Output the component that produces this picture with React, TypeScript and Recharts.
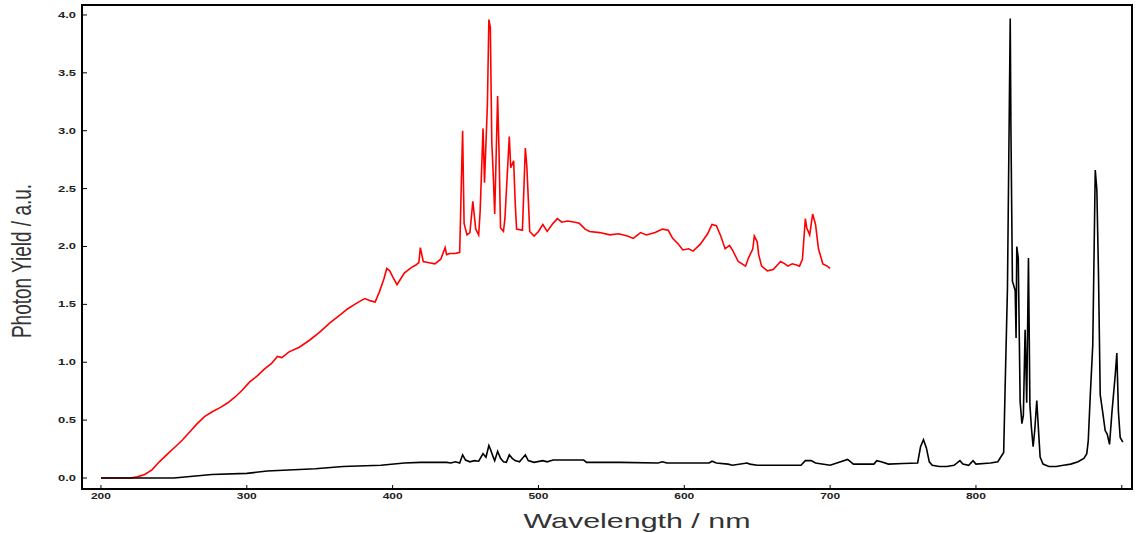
import React from "react";
import { LineChart, Line, XAxis, YAxis, ReferenceArea } from "recharts";

// visible-range spectrum (red)
const visWavelength = [
  200, 210, 220, 225, 230, 235, 240, 245, 251, 256, 261, 266, 271, 276, 282, 287, 292, 297, 302, 307,
  312, 317, 321, 324, 329, 336, 343, 350, 357, 364, 369, 374, 378, 381, 385, 388, 391, 394, 396, 398,
  400, 403, 406, 408, 411, 413, 416, 418, 419, 421, 425, 429, 433, 436, 437, 439, 443, 446, 447, 448,
  449, 451, 453, 455, 457, 459, 460, 462, 463, 465, 466, 467, 468, 469, 470, 472, 473, 474, 476, 477,
  480, 481, 483, 484, 485, 489, 491, 492, 493, 494, 497, 500, 503, 506, 510, 513, 516, 520, 525, 528,
  532, 535, 542, 549, 555, 561, 565, 570, 574, 580, 585, 589, 592, 596, 599, 603, 606, 611, 616, 619,
  622, 625, 628, 631, 633, 637, 642, 644, 647, 648, 650, 651, 653, 657, 661, 666, 669, 671, 674, 677,
  679, 681, 683, 684, 686, 688, 690, 692, 695, 698, 700,
];
const visYield = [
  0.0, 0.0, 0.0, 0.01, 0.03, 0.07, 0.14, 0.2, 0.27, 0.33, 0.4, 0.47, 0.53, 0.57, 0.61, 0.65, 0.7, 0.76, 0.83, 0.88,
  0.94, 0.99, 1.05, 1.04, 1.09, 1.13, 1.19, 1.26, 1.34, 1.41, 1.46, 1.5, 1.53, 1.55, 1.53, 1.52, 1.61, 1.72, 1.81, 1.79,
  1.74, 1.67, 1.73, 1.77, 1.8, 1.82, 1.84, 1.86, 1.99, 1.87, 1.86, 1.85, 1.89, 1.99, 1.93, 1.94, 1.94, 1.95, 2.49, 3.0,
  2.2, 2.1, 2.12, 2.39, 2.15, 2.1, 2.3, 3.02, 2.55, 3.23, 3.96, 3.89, 2.9, 2.62, 2.28, 3.3, 2.8, 2.16, 2.13, 2.24,
  2.95, 2.68, 2.74, 2.39, 2.15, 2.14, 2.85, 2.7, 2.42, 2.13, 2.09, 2.13, 2.19, 2.13, 2.2, 2.24, 2.21, 2.22, 2.21, 2.2,
  2.15, 2.13, 2.12, 2.1, 2.11, 2.09, 2.07, 2.12, 2.1, 2.12, 2.15, 2.14, 2.07, 2.02, 1.97, 1.98, 1.96, 2.02, 2.11, 2.19,
  2.18, 2.09, 1.98, 2.01, 1.97, 1.87, 1.83, 1.9, 1.98, 2.09, 2.04, 1.93, 1.83, 1.79, 1.8, 1.87, 1.85, 1.83, 1.85, 1.84,
  1.83, 1.89, 2.24, 2.16, 2.1, 2.28, 2.19, 1.98, 1.85, 1.83, 1.81,
];

// full-range spectrum (black)
const nirWavelength = [
  200, 215, 231, 250, 276, 300, 314, 347, 366, 392, 408, 419, 437, 440, 443, 446, 448, 450, 453, 456,
  459, 462, 464, 466, 467, 469, 470, 472, 474, 476, 478, 480, 482, 484, 487, 491, 493, 497, 503, 506,
  510, 531, 533, 556, 582, 585, 588, 617, 619, 622, 630, 633, 643, 645, 650, 680, 683, 687, 690, 700,
  712, 716, 730, 732, 735, 740, 750, 760, 762, 764, 766, 768, 770, 775, 780, 785, 789, 791, 795, 798,
  800, 810, 815, 819, 820, 821.6, 823.5, 824, 825, 826.9, 827.5, 828, 829, 830.3, 831.5, 832.5, 833.7, 834.8, 836, 837,
  838, 839.2, 840.3, 841.7, 843, 844, 846, 850, 855, 860, 865, 870, 874, 876, 877, 878.3, 880.1, 881.8, 882.9, 884,
  885.2, 887, 888.6, 890, 891.6, 893.2, 895.5, 896.6, 897.7, 898.9, 900.7,
];
const nirYield = [
  0.0, 0.0, 0.0, 0.0, 0.03, 0.04, 0.06, 0.08, 0.1, 0.11, 0.13, 0.135, 0.135, 0.13, 0.14, 0.13, 0.2, 0.155, 0.14, 0.15,
  0.145, 0.21, 0.18, 0.28, 0.25, 0.18, 0.15, 0.23, 0.17, 0.14, 0.135, 0.2, 0.17, 0.15, 0.14, 0.2, 0.15, 0.135, 0.15, 0.14,
  0.155, 0.155, 0.135, 0.135, 0.13, 0.14, 0.13, 0.13, 0.145, 0.13, 0.12, 0.11, 0.13, 0.12, 0.11, 0.11, 0.15, 0.15, 0.13, 0.11,
  0.16, 0.12, 0.12, 0.15, 0.14, 0.12, 0.125, 0.13, 0.27, 0.33, 0.26, 0.14, 0.11, 0.1, 0.1, 0.11, 0.15, 0.12, 0.11, 0.15,
  0.12, 0.13, 0.14, 0.22, 0.78, 1.64, 3.97, 2.99, 1.7, 1.62, 1.21, 2.0, 1.9, 0.66, 0.47, 0.54, 1.28, 0.65, 1.9, 0.63,
  0.44, 0.27, 0.41, 0.67, 0.39, 0.18, 0.12, 0.1, 0.1, 0.11, 0.12, 0.14, 0.17, 0.21, 0.32, 0.69, 1.15, 2.66, 2.49, 1.78,
  0.72, 0.56, 0.41, 0.38, 0.29, 0.56, 0.89, 1.08, 0.57, 0.35, 0.31,
];

const xTicks = [200, 300, 400, 500, 600, 700, 800, 900];
const yTicks = [0, 0.5, 1, 1.5, 2, 2.5, 3, 3.5, 4];
const xDomain = [187, 907];
const yDomain = [-0.095, 4.086];

const visData = visWavelength.map((x, i) => ({ x, y: visYield[i] }));
const nirData = nirWavelength.map((x, i) => ({ x, y: nirYield[i] }));

const FONT = "'Liberation Sans', Arial, sans-serif";

const XTick = (props: any) => {
  const { x, y, payload } = props;
  if (payload.value === 900) return <g />;
  return (
    <text x={x} y={y} dy="0.71em" textAnchor="middle" fontSize={8.5} fontWeight="bold" fill="#222"
      fontFamily={FONT} textLength={20} lengthAdjust="spacingAndGlyphs">
      {payload.value}
    </text>
  );
};

const YTick = (props: any) => {
  const { x, y, payload } = props;
  return (
    <text x={x} y={y} dy="0.35em" textAnchor="end" fontSize={8.5} fontWeight="bold" fill="#222"
      fontFamily={FONT} textLength={18} lengthAdjust="spacingAndGlyphs">
      {payload.value.toFixed(1)}
    </text>
  );
};

const XTitle = (props: any) => {
  const { viewBox } = props;
  return (
    <text x={viewBox.x + viewBox.width / 2 + 30} y={viewBox.y + 39} textAnchor="middle" fontSize={21}
      fill="#333" fontFamily={FONT} textLength={227} lengthAdjust="spacingAndGlyphs">
      Wavelength / nm
    </text>
  );
};

const YTitle = (props: any) => {
  const { viewBox } = props;
  const cx = viewBox.x + 31;
  const cy = viewBox.y + viewBox.height / 2 + 14;
  return (
    <text transform={`translate(${cx},${cy}) scale(1.45,1) rotate(-90)`} x={0} y={0} textAnchor="middle"
      fontSize={19} fill="#333" fontFamily={FONT}>
      Photon Yield / a.u.
    </text>
  );
};

export default function App() {
  return (
    <div style={{ position: "absolute", left: 0, top: 0, width: 1144, height: 533, background: "#fff" }}>
      <LineChart width={1144} height={533} margin={{ top: 5, right: 12, bottom: 0, left: 0 }}>
        {/* box round the whole plot range: gives the top and right edges */}
        <ReferenceArea x1={xDomain[0]} x2={xDomain[1]} y1={yDomain[0]} y2={yDomain[1]}
          ifOverflow="visible" fill="none" fillOpacity={0} stroke="#000" strokeWidth={2} strokeOpacity={1} />
        <XAxis type="number" dataKey="x" domain={xDomain} ticks={xTicks}
          allowDataOverflow tickSize={-4} tickMargin={8} tick={<XTick />} height={44}
          axisLine={{ stroke: "#000", strokeWidth: 2 }} tickLine={{ stroke: "#000" }}
          label={<XTitle />} />
        <YAxis type="number" domain={yDomain} ticks={yTicks} allowDataOverflow
          tickSize={-5} tickMargin={11} tick={<YTick />} width={82}
          axisLine={{ stroke: "#000", strokeWidth: 2 }} tickLine={{ stroke: "#000" }}
          label={<YTitle />} />
        <Line data={visData} dataKey="y" type="linear" stroke="#ff0000"
          strokeWidth={1.6} dot={false} isAnimationActive={false} />
        <Line data={nirData} dataKey="y" type="linear" stroke="#000"
          strokeWidth={1.6} dot={false} isAnimationActive={false} />
      </LineChart>
    </div>
  );
}
